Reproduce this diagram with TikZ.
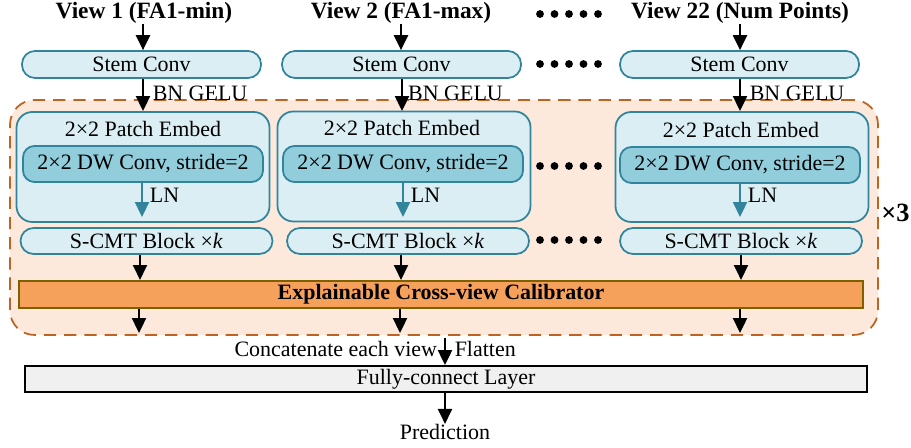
\documentclass[tikz,border=0pt]{standalone}
\usepackage{fontspec}
\setmainfont{Liberation Serif}
\usetikzlibrary{arrows.meta}

\definecolor{tealline}{HTML}{31849B}
\definecolor{lightblue}{HTML}{DAEEF3}
\definecolor{midblue}{HTML}{92CDDC}
\definecolor{regionfill}{HTML}{FCE9DC}
\definecolor{regionline}{HTML}{BE6322}
\definecolor{calfill}{HTML}{F5A15C}
\definecolor{calline}{HTML}{7F6000}
\definecolor{fcfill}{HTML}{F0F0F0}

\begin{document}
\begin{tikzpicture}[x=0.02cm,y=-0.02cm,
    every node/.style={font=\fontsize{12.5}{14}\selectfont, inner sep=0pt},
    arr/.style={line width=1.1pt, -{Triangle[length=8.5pt,width=8pt]}},
    lnarr/.style={line width=1pt, tealline, -{Triangle[length=8.5pt,width=8pt]}},
    pill/.style={draw=tealline, line width=1pt, fill=lightblue, rounded corners=7.4pt,
      minimum height=27*0.02cm},
    patchbox/.style={draw=tealline, line width=1pt, fill=lightblue, rounded corners=9pt,
      minimum width=253*0.02cm, minimum height=110*0.02cm},
    dwbox/.style={draw=tealline, line width=1pt, fill=midblue, rounded corners=6.5pt,
      minimum width=240*0.02cm, minimum height=36*0.02cm},
    viewtitle/.style={font=\fontsize{13.3}{15}\selectfont\bfseries},
    lbl/.style={text=black},
  ]
    \useasboundingbox (0,0) rectangle (911,448);

    % dashed region repeated x3
    \node[draw=regionline, dash pattern=on 7pt off 4.5pt, line width=1pt, fill=regionfill,
      rounded corners=14pt, minimum width=868*0.02cm, minimum height=235*0.02cm]
      (reg) at (444,217.5) {};
    \node[anchor=west, font=\fontsize{15}{16}\selectfont\bfseries] (rep) at (881,213) {×3};

    % view titles
    \node[viewtitle] (t1) at (144,13) {View 1 (FA1-min)};
    \node[viewtitle] (t2) at (401,13) {View 2 (FA1-max)};
    \node[viewtitle] (t3) at (740,13) {View 22 (Num Points)};

    % stem conv
    \node[pill, minimum width=239*0.02cm] (s1) at (141.5,64.5) {Stem Conv};
    \node[pill, minimum width=239*0.02cm] (s2) at (401.5,64.5) {Stem Conv};
    \node[pill, minimum width=239*0.02cm] (s3) at (739.5,64.5) {Stem Conv};

    % patch embed
    \node[patchbox] (p1) at (143,167) {};
    \node[patchbox] (p2) at (404,166.5) {};
    \node[patchbox] (p3) at (742,167) {};
    \node (pt1) at (143,129) {2×2 Patch Embed};
    \node (pt2) at (402,128) {2×2 Patch Embed};
    \node (pt3) at (741,130) {2×2 Patch Embed};
    \node[dwbox] (d1) at (143,164) {2×2 DW Conv, stride=2};
    \node[dwbox] (d2) at (403,164) {2×2 DW Conv, stride=2};
    \node[dwbox] (d3) at (740,165) {2×2 DW Conv, stride=2};

    % S-CMT blocks
    \node[pill, minimum width=252*0.02cm, minimum height=26*0.02cm] (b1) at (146.5,241) {S-CMT Block ×\textit{k}};
    \node[pill, minimum width=242*0.02cm, minimum height=26*0.02cm] (b2) at (408,241) {S-CMT Block ×\textit{k}};
    \node[pill, minimum width=242*0.02cm, minimum height=26*0.02cm] (b3) at (741,241) {S-CMT Block ×\textit{k}};

    % calibrator
    \node[draw=calline, line width=1.2pt, fill=calfill, minimum width=844*0.02cm,
      minimum height=27*0.02cm, font=\fontsize{12.5}{14}\selectfont\bfseries]
      (cal) at (441,294.5) {Explainable Cross-view Calibrator};

    % fully-connect layer
    \node[draw, line width=1.1pt, fill=fcfill, minimum width=842*0.02cm,
      minimum height=26*0.02cm] (fc) at (446,379) {Fully-connect Layer};
    \node (pred) at (445,432) {Prediction};

    % dots between columns
    \foreach \yy in {14,64,166,240}
      \foreach \xx in {540,554.5,569,583.5,598}
        \fill (\xx,\yy) circle (3.9);

    % arrows
    \draw[arr] (t1.south -| 143,0) -- (s1.north -| 143,0);
    \draw[arr] (t2.south) -- (t2.south |- s2.north);
    \draw[arr] (t3.south) -- (t3.south |- s3.north);

    \draw[arr] (s1.south -| 143,0) -- (143,111) node[lbl, pos=0.45, anchor=west, xshift=5pt] {BN GELU};
    \draw[arr] (s2.south -| 402,0) -- (402,111) node[lbl, pos=0.45, anchor=west, xshift=3pt] {BN GELU};
    \draw[arr] (s3.south -| 740,0) -- (740,111) node[lbl, pos=0.45, anchor=west, xshift=5pt] {BN GELU};

    \draw[lnarr] (d1.south -| 142,0) -- (142,217) node[lbl, pos=0.35, anchor=west, xshift=4pt] {LN};
    \draw[lnarr] (d2.south -| 403,0) -- (403,217) node[lbl, pos=0.35, anchor=west, xshift=4pt] {LN};
    \draw[lnarr] (d3.south -| 740,0) -- (740,217) node[lbl, pos=0.35, anchor=west, xshift=4pt] {LN};

    \draw[arr] (b1.south -| 140,0) -- (cal.north -| 140,0);
    \draw[arr] (b2.south -| 401,0) -- (cal.north -| 401,0);
    \draw[arr] (b3.south -| 741,0) -- (cal.north -| 741,0);

    \draw[arr] (cal.south -| 139,0) -- (139,333);
    \draw[arr] (cal.south -| 400,0) -- (400,333);
    \draw[arr] (cal.south -| 740,0) -- (740,333);

    \draw[arr] (reg.south -| 445,0) ++(0,2) -- (fc.north -| 445,0)
      node[lbl, pos=0.4, anchor=east, xshift=-4pt] {Concatenate each view}
      node[lbl, pos=0.4, anchor=west, xshift=5pt] {Flatten};
    \draw[arr] (fc.south -| 445,0) -- (pred.north);
\end{tikzpicture}
\end{document}
